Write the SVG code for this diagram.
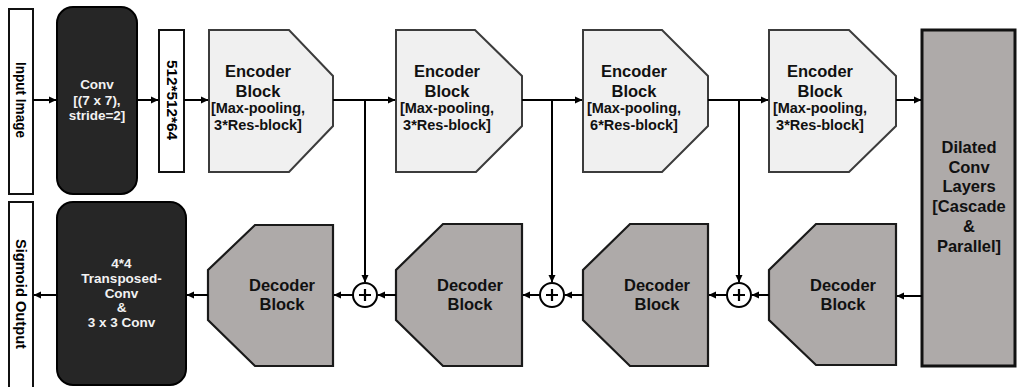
<svg xmlns="http://www.w3.org/2000/svg" width="1017" height="387" viewBox="0 0 1017 387">
<style>
text{font-family:"Liberation Sans",Arial,sans-serif;font-weight:bold;text-anchor:middle}
.lbl{fill:#fff;stroke:#111;stroke-width:2}
.dark{fill:#262626;stroke:#000;stroke-width:2}
.enc{fill:#f0f0f0;stroke:#3c3c3c;stroke-width:2}
.dec{fill:#aeaaa9;stroke:#1a1a1a;stroke-width:2.2}
.big{font-size:16.5px;fill:#111}
.sub{font-size:14.5px;fill:#111}
.wt{font-size:13.5px;fill:#f2f2f2}
.vt{font-size:14.5px;fill:#000}
.ln{fill:none;stroke:#000;stroke-width:2}
.sum{fill:#fff;stroke:#000;stroke-width:2}
</style>
<defs>
<marker id="ah" markerWidth="8" markerHeight="8" refX="7" refY="4" orient="auto" markerUnits="userSpaceOnUse">
<path d="M0,0.5 L7.5,4 L0,7.5 Z" fill="#000"/>
</marker>
</defs>

<g id="input-image">
<rect class="lbl" x="9" y="9" width="24" height="185"/>
<text class="vt" transform="translate(21,100) rotate(90)" y="5" textLength="76" lengthAdjust="spacingAndGlyphs">Input Image</text>
</g>

<g id="conv7">
<rect class="dark" x="57" y="7" width="80" height="187" rx="16"/>
<text class="wt" x="97" y="89">Conv</text>
<text class="wt" x="97" y="105">[(7 x 7),</text>
<text class="wt" x="97" y="120">stride=2]</text>
</g>

<g id="feat-512">
<rect class="lbl" x="159" y="30" width="25" height="142"/>
<text class="vt" transform="translate(171.5,100) rotate(90)" y="5" textLength="80" lengthAdjust="spacingAndGlyphs">512*512*64</text>
</g>

<g id="enc1">
<path class="enc" d="M209,30 H289 L333,76 V126 L289,172 H209 Z"/>
<text class="big" x="258" y="77">Encoder</text>
<text class="big" x="258" y="97">Block</text>
<text class="sub" x="258" y="113">[Max-pooling,</text>
<text class="sub" x="258" y="130">3*Res-block]</text>
</g>

<g id="enc2">
<path class="enc" d="M396,30 H475 L522,76 V126 L476,172 H396 Z"/>
<text class="big" x="447" y="77">Encoder</text>
<text class="big" x="447" y="97">Block</text>
<text class="sub" x="447" y="113">[Max-pooling,</text>
<text class="sub" x="447" y="130">3*Res-block]</text>
</g>

<g id="enc3">
<path class="enc" d="M583,30 H662 L708,76 V126 L662,172 H583 Z"/>
<text class="big" x="634" y="77">Encoder</text>
<text class="big" x="634" y="97">Block</text>
<text class="sub" x="634" y="113">[Max-pooling,</text>
<text class="sub" x="634" y="130">6*Res-block]</text>
</g>

<g id="enc4">
<path class="enc" d="M769,30 H849 L896,76 V126 L849,172 H769 Z"/>
<text class="big" x="820" y="77">Encoder</text>
<text class="big" x="820" y="97">Block</text>
<text class="sub" x="820" y="113">[Max-pooling,</text>
<text class="sub" x="820" y="130">3*Res-block]</text>
</g>

<g id="dilated">
<rect x="922" y="30" width="93" height="336" fill="#aeaaa9" stroke="#111" stroke-width="3"/>
<text class="big" x="969" y="153">Dilated</text>
<text class="big" x="969" y="173">Conv</text>
<text class="big" x="969" y="192">Layers</text>
<text class="big" x="969" y="212">[Cascade</text>
<text class="big" x="969" y="232">&amp;</text>
<text class="big" x="969" y="252">Parallel]</text>
</g>

<g id="dec4">
<path class="dec" d="M816,224 H896 V365 H816 L769,320 V270 Z"/>
<text class="big" x="843" y="291">Decoder</text>
<text class="big" x="843" y="310">Block</text>
</g>

<g id="dec3">
<path class="dec" d="M630,224 H708 V366 H630 L583,320 V270 Z"/>
<text class="big" x="657" y="291">Decoder</text>
<text class="big" x="657" y="310">Block</text>
</g>

<g id="dec2">
<path class="dec" d="M443,224 H522 V366 H443 L396,320 V270 Z"/>
<text class="big" x="470" y="291">Decoder</text>
<text class="big" x="470" y="310">Block</text>
</g>

<g id="dec1">
<path class="dec" d="M255,225 H333 V366 H255 L208,320 V270 Z"/>
<text class="big" x="282" y="291">Decoder</text>
<text class="big" x="282" y="310">Block</text>
</g>

<g id="sum3">
<circle class="sum" cx="739" cy="295" r="12"/>
<path d="M733,295 H745 M739,289 V301" stroke="#000" stroke-width="2.2"/>
</g>
<g id="sum2">
<circle class="sum" cx="552" cy="295" r="12"/>
<path d="M546,295 H558 M552,289 V301" stroke="#000" stroke-width="2.2"/>
</g>
<g id="sum1">
<circle class="sum" cx="365" cy="295" r="12"/>
<path d="M359,295 H371 M365,289 V301" stroke="#000" stroke-width="2.2"/>
</g>

<g id="out-conv">
<rect class="dark" x="57" y="202" width="129" height="183" rx="16"/>
<text class="wt" x="121.5" y="268">4*4</text>
<text class="wt" x="121.5" y="283">Transposed-</text>
<text class="wt" x="121.5" y="298">Conv</text>
<text class="wt" x="121.5" y="312">&amp;</text>
<text class="wt" x="121.5" y="327">3 x 3 Conv</text>
</g>

<g id="sigmoid-output">
<rect class="lbl" x="9" y="202" width="24" height="190"/>
<text class="vt" transform="translate(21,294) rotate(90)" y="5" textLength="110" lengthAdjust="spacingAndGlyphs">Sigmoid Output</text>
</g>

<g id="connectors">
<path class="ln" d="M33,100 H56" marker-end="url(#ah)"/>
<path class="ln" d="M137,100 H158" marker-end="url(#ah)"/>
<path class="ln" d="M184,100 H208" marker-end="url(#ah)"/>
<path class="ln" d="M333,100 H395" marker-end="url(#ah)"/>
<path class="ln" d="M522,100 H582" marker-end="url(#ah)"/>
<path class="ln" d="M708,100 H768" marker-end="url(#ah)"/>
<path class="ln" d="M896,100 H921" marker-end="url(#ah)"/>
<path class="ln" d="M365,100 V282" marker-end="url(#ah)"/>
<path class="ln" d="M552,100 V282" marker-end="url(#ah)"/>
<path class="ln" d="M739,100 V282" marker-end="url(#ah)"/>
<path class="ln" d="M922,296 H897" marker-end="url(#ah)"/>
<path class="ln" d="M769,295 H752" marker-end="url(#ah)"/>
<path class="ln" d="M727,295 H709" marker-end="url(#ah)"/>
<path class="ln" d="M583,295 H565" marker-end="url(#ah)"/>
<path class="ln" d="M540,295 H523" marker-end="url(#ah)"/>
<path class="ln" d="M396,295 H378" marker-end="url(#ah)"/>
<path class="ln" d="M353,295 H334" marker-end="url(#ah)"/>
<path class="ln" d="M208,295 H187" marker-end="url(#ah)"/>
<path class="ln" d="M57,295 H34" marker-end="url(#ah)"/>
</g>
</svg>
